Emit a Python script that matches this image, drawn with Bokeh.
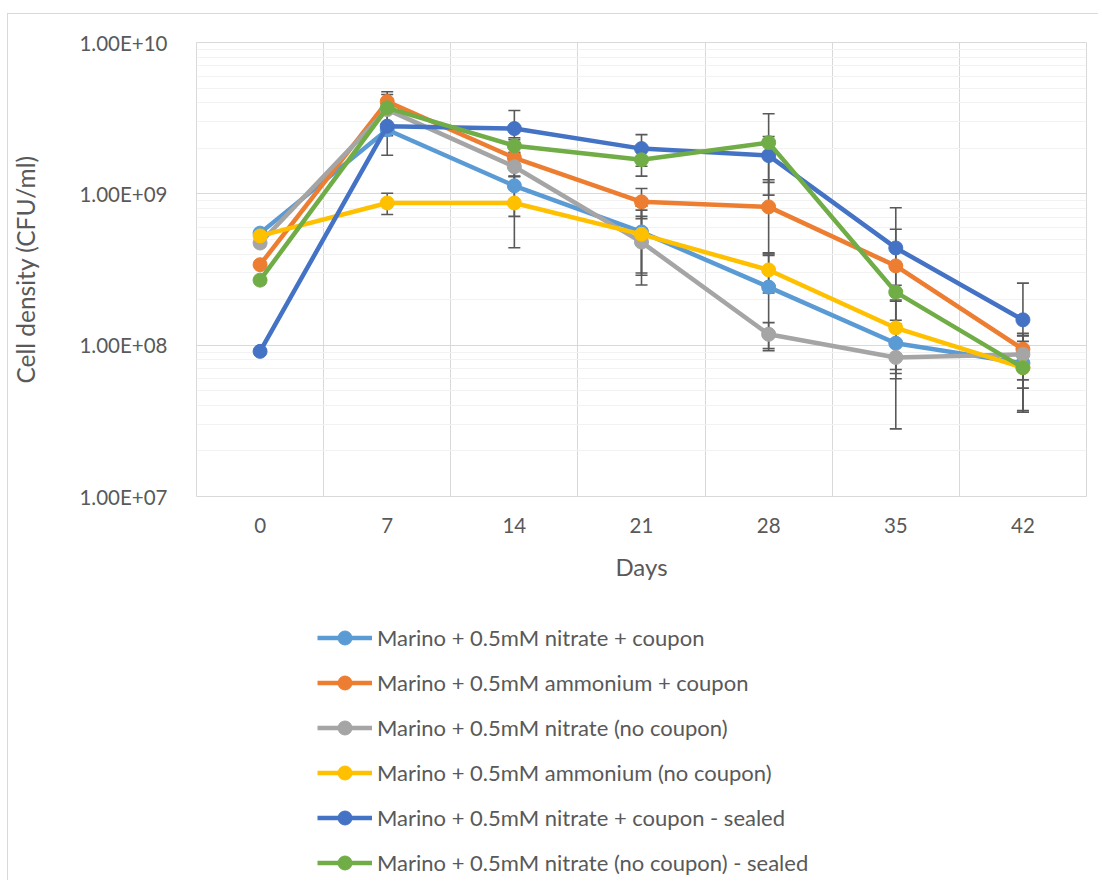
from bokeh.plotting import figure
from bokeh.layouts import column
from bokeh.models import FixedTicker, CustomJSTickFormatter, Legend, LegendItem, Range1d
from bokeh.embed import file_html
from bokeh.resources import INLINE

# ---------------- data ----------------
days = [0, 7, 14, 21, 28, 35, 42]
y_decades = [1e7, 1e8, 1e9, 1e10]

names = [
    "Marino + 0.5mM nitrate + coupon",
    "Marino + 0.5mM ammonium + coupon",
    "Marino + 0.5mM nitrate (no coupon)",
    "Marino + 0.5mM ammonium (no coupon)",
    "Marino + 0.5mM nitrate + coupon - sealed",
    "Marino + 0.5mM nitrate (no coupon) - sealed",
]

nitrate_coupon = [5.5e8, 2.65e9, 1.13e9, 5.6e8, 2.42e8, 1.03e8, 7.6e7]
nitrate_coupon_err = [0, 2.3e8, 4.2e8, 2.7e8, 1.5e8, 4.3e7, 4.0e7]

ammonium_coupon = [3.4e8, 4.07e9, 1.73e9, 8.85e8, 8.2e8, 3.34e8, 9.4e7]
ammonium_coupon_err = [0, 6.6e8, 6.2e8, 2.0e8, 4.2e8, 2.5e8, 2.6e7]

nitrate_nocoupon = [4.73e8, 3.6e9, 1.51e9, 4.8e8, 1.18e8, 8.3e7, 8.7e7]
nitrate_nocoupon_err = [0, 9.3e8, 2.0e8, 2.3e8, 2.3e7, 5.5e7, 2.8e7]

ammonium_nocoupon = [5.27e8, 8.7e8, 8.7e8, 5.4e8, 3.14e8, 1.3e8, 7.1e7]
ammonium_nocoupon_err = [0, 1.4e8, 4.3e8, 2.4e8, 9.3e7, 6.5e7, 3.5e7]

nitrate_coupon_sealed = [9.1e7, 2.8e9, 2.7e9, 1.99e9, 1.79e9, 4.39e8, 1.47e8]
nitrate_coupon_sealed_err = [0, 1.0e9, 8.5e8, 4.7e8, 6.0e8, 3.7e8, 1.1e8]

nitrate_nocoupon_sealed = [2.69e8, 3.7e9, 2.08e9, 1.68e9, 2.18e9, 2.24e8, 7.1e7]
nitrate_nocoupon_sealed_err = [0, 2.0e8, 2.0e8, 3.7e8, 1.2e9, 2.5e7, 1.9e7]

colors = ["#5B9BD5", "#ED7D31", "#A5A5A5", "#FFC000", "#4472C4", "#70AD47"]

series = [
    (nitrate_coupon, nitrate_coupon_err),
    (ammonium_coupon, ammonium_coupon_err),
    (nitrate_nocoupon, nitrate_nocoupon_err),
    (ammonium_nocoupon, ammonium_nocoupon_err),
    (nitrate_coupon_sealed, nitrate_coupon_sealed_err),
    (nitrate_nocoupon_sealed, nitrate_nocoupon_sealed_err),
]

# ---------------- styling ----------------
FONT = "Lato"
TXT = "#595959"
GRID = "#D9D9D9"
MINOR = "#F2F2F2"
ERRC = "#595959"
LINE_W = 4.5
MARK = 14

step = days[1] - days[0]
p = figure(
    width=1090, height=582,
    y_axis_type="log",
    x_range=Range1d(days[0] - step / 2, days[-1] + step / 2),
    y_range=Range1d(y_decades[0], y_decades[-1]),
    output_backend="svg", toolbar_location=None,
    min_border_left=187, min_border_right=12, min_border_top=28, min_border_bottom=100,
)
p.background_fill_color = "white"
p.border_fill_color = "white"
p.outline_line_color = GRID
p.outline_line_width = 1

# x axis
p.xaxis.ticker = FixedTicker(ticks=days)
p.xaxis.axis_line_color = None
p.xaxis.major_tick_line_color = None
p.xaxis.minor_tick_line_color = None
p.xaxis.major_label_text_font = FONT
p.xaxis.major_label_text_font_size = "20.5px"
p.xaxis.major_label_text_color = TXT
p.xaxis.major_label_standoff = 15
p.xaxis.axis_label = "Days"
p.xaxis.axis_label_text_font = FONT
p.xaxis.axis_label_text_font_size = "24px"
p.xaxis.axis_label_text_font_style = "normal"
p.xaxis.axis_label_text_color = TXT
p.xaxis.axis_label_standoff = 16

# y axis
minor = [m * d for d in y_decades[:-1] for m in range(2, 10)]
p.yaxis.ticker = FixedTicker(ticks=y_decades, minor_ticks=minor)
p.yaxis.formatter = CustomJSTickFormatter(code="""
    const parts = tick.toExponential(2).split('e');
    const e = parseInt(parts[1]);
    return parts[0] + 'E' + (e < 0 ? '-' : '+') + String(Math.abs(e)).padStart(2, '0');
""")
p.yaxis.axis_line_color = None
p.yaxis.major_tick_line_color = None
p.yaxis.minor_tick_line_color = None
p.yaxis.major_label_text_font = FONT
p.yaxis.major_label_text_font_size = "20.5px"
p.yaxis.major_label_text_color = TXT
p.yaxis.major_label_standoff = 23
p.yaxis.axis_label = "Cell density (CFU/ml)"
p.yaxis.axis_label_text_font = FONT
p.yaxis.axis_label_text_font_size = "24.5px"
p.yaxis.axis_label_text_font_style = "normal"
p.yaxis.axis_label_text_color = TXT
p.yaxis.axis_label_standoff = 36

# grids
bounds = [(a + b) / 2 for a, b in zip(days, days[1:])]
p.xgrid.ticker = FixedTicker(ticks=bounds)
p.xgrid.grid_line_color = GRID
p.xgrid.grid_line_width = 1
p.ygrid.grid_line_color = GRID
p.ygrid.grid_line_width = 1
p.ygrid.minor_grid_line_color = MINOR
p.ygrid.minor_grid_line_width = 1

# error bars
for vals, errs in series:
    xs = [d for d, e in zip(days, errs) if e > 0]
    lo = [v - e for v, e in zip(vals, errs) if e > 0]
    hi = [v + e for v, e in zip(vals, errs) if e > 0]
    p.segment(x0=xs, y0=lo, x1=xs, y1=hi, line_color=ERRC, line_width=1.6)
    p.scatter(x=xs + xs, y=lo + hi, marker="dash", size=12, line_color=ERRC,
              fill_color=ERRC, line_width=1.6)

# lines + markers
for (vals, errs), c in zip(series, colors):
    p.line(days, vals, line_color=c, line_width=LINE_W, line_join="round")
    p.scatter(days, vals, marker="circle", size=MARK, fill_color=c, line_color=c)

# ---------------- legend panel (below the chart) ----------------
q = figure(
    width=1090, height=284, x_range=(0, 1), y_range=(0, 1),
    x_axis_location=None, y_axis_location=None,
    output_backend="svg", toolbar_location=None,
    min_border=0, min_border_left=0, min_border_right=0, min_border_top=0, min_border_bottom=0,
)
q.outline_line_color = None
q.grid.visible = False
q.background_fill_color = "white"
q.border_fill_color = "white"

nan = float("nan")
items = []
for name, c in zip(names, colors):
    lr = q.line(x=[nan, nan], y=[nan, nan], line_color=c, line_width=LINE_W)
    sr = q.scatter(x=[nan], y=[nan], marker="circle", size=MARK, fill_color=c, line_color=c)
    items.append(LegendItem(label=name, renderers=[lr, sr]))

legend = Legend(items=items, location=(121, 0))
legend.orientation = "vertical"
legend.label_text_font = FONT
legend.label_text_font_size = "22px"
legend.label_text_color = TXT
legend.glyph_width = 55
legend.glyph_height = 35
legend.label_height = 35
legend.label_standoff = 5
legend.spacing = 10
legend.padding = 0
legend.margin = 0
legend.border_line_color = None
legend.background_fill_alpha = 0
q.add_layout(legend, "center")

layout = column(p, q, spacing=0, styles={
    "margin-left": "7px", "margin-top": "13px",
    "border-top": "1px solid #D9D9D9", "border-left": "1px solid #D9D9D9",
})
open("out.html", "w").write(file_html(layout, INLINE))
